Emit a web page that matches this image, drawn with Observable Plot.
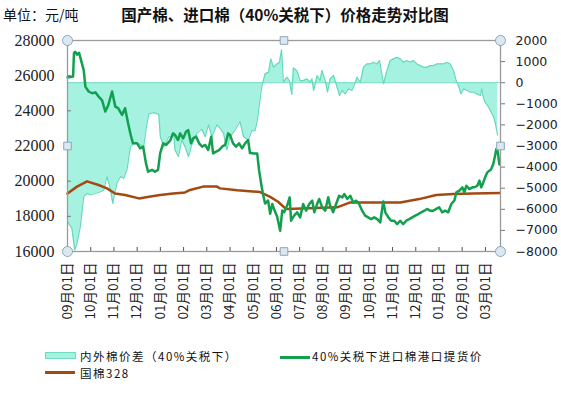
<!DOCTYPE html>
<html><head><meta charset="utf-8">
<script src="https://cdn.jsdelivr.net/npm/d3@7"></script>
<script src="https://cdn.jsdelivr.net/npm/@observablehq/plot@0.6"></script>
<style>
body{margin:0;background:#fff;}
#wrap{position:relative;width:561px;height:394px;overflow:hidden;font-family:"Noto Sans CJK SC",sans-serif;color:#111;}
#chart{position:absolute;left:0;top:0;}
.t{position:absolute;white-space:nowrap;line-height:1;}
.lg{font-size:11.5px;letter-spacing:1.5px;line-height:12px;height:12px;}
.sw{position:absolute;}
</style></head><body>
<div id="wrap">
<div id="chart"></div>
<div class="t" style="left:3px;top:7px;font-size:14px;">单位：元/吨</div>
<div class="t" style="left:285px;top:7px;font-size:15.5px;font-weight:bold;transform:translateX(-50%);">国产棉、进口棉（40%关税下）价格走势对比图</div>
<div class="sw" style="left:45px;top:352px;width:29px;height:5px;background:#a6f2e0;border:1px solid #6fdcc0;"></div>
<div class="t lg" id="lg1" style="left:80px;top:350px;"></div>
<div class="sw" style="left:280px;top:356px;width:30px;height:2.5px;background:#12a04e;"></div>
<div class="t lg" id="lg2" style="left:312px;top:350px;"></div>
<div class="sw" style="left:45px;top:371px;width:30px;height:2.5px;background:#a34a12;"></div>
<div class="t lg" id="lg3" style="left:80px;top:367px;"></div>
</div>
<script>
// Series names
const seriesNames = ["内外棉价差（40%关税下）", "40%关税下进口棉港口提货价", "国棉328"];
// X tick labels (one per month, positions = month index from 09月01日)
const xLabels = ["09月01日","10月01日","11月01日","12月01日","01月01日","02月01日","03月01日","04月01日","05月01日","06月01日","07月01日","08月01日","09月01日","10月01日","11月01日","12月01日","01月01日","02月01日","03月01日"];
const xDomain = [0, 18.65];
const yDomain = [16000, 28000];      // left axis 元/吨
const rDomain = [-8000, 2000];       // right axis (spread)
const leftTicks = [16000,18000,20000,22000,24000,26000,28000];
const rightTicks = [-8000,-7000,-6000,-5000,-4000,-3000,-2000,-1000,0,1000,2000];

// [month position, price] : 40%关税下进口棉港口提货价
const importPrice = [[0,25900],[0.24,25950],[0.28,27300],[0.34,27350],[0.41,27200],[0.5,27300],[0.58,26900],[0.7,26300],[0.77,25380],[0.91,25100],[1.06,25000],[1.2,25050],[1.34,24810],[1.49,24600],[1.63,23960],[1.75,24300],[1.92,25100],[2.06,24240],[2.18,24150],[2.35,23770],[2.48,24150],[2.61,23290],[2.74,22530],[2.82,22150],[3.0,22150],[3.13,21870],[3.26,21960],[3.38,21010],[3.47,20540],[3.64,20640],[3.77,20540],[3.9,20640],[3.99,21580],[4.12,22150],[4.25,22060],[4.42,22300],[4.55,22720],[4.63,22630],[4.76,22340],[4.85,22720],[4.98,22430],[5.11,22820],[5.2,22900],[5.32,22150],[5.41,22430],[5.54,22530],[5.67,22150],[5.8,21960],[5.93,22060],[6.06,21770],[6.19,22530],[6.27,21580],[6.4,21680],[6.53,21770],[6.66,21960],[6.79,22060],[6.92,22720],[7.0,22630],[7.13,22150],[7.26,21960],[7.39,22150],[7.52,21870],[7.65,22150],[7.78,22340],[7.86,21600],[8.04,21580],[8.17,21580],[8.25,20640],[8.34,19870],[8.42,19270],[8.51,18730],[8.64,18900],[8.73,18150],[8.82,18700],[8.9,18400],[9.03,17980],[9.16,17180],[9.25,18330],[9.33,18230],[9.46,18610],[9.57,19080],[9.63,17750],[9.76,18040],[9.89,18230],[10.02,17940],[10.15,18700],[10.28,18320],[10.41,18700],[10.54,18890],[10.63,18230],[10.75,18700],[10.84,18990],[10.97,18510],[11.1,18320],[11.23,19080],[11.31,18610],[11.44,18230],[11.57,18700],[11.7,19170],[11.84,19080],[11.92,19270],[12.05,18990],[12.18,19170],[12.31,18790],[12.44,18890],[12.56,18700],[12.69,18320],[12.82,18040],[12.95,17940],[13.08,17840],[13.21,17940],[13.34,17840],[13.47,17650],[13.6,18850],[13.69,18230],[13.82,17940],[13.94,17750],[14.07,17750],[14.2,17560],[14.33,17750],[14.46,17560],[14.59,17750],[14.72,17840],[14.85,17940],[14.98,18040],[15.11,18130],[15.24,18230],[15.37,18320],[15.49,18420],[15.62,18320],[15.75,18320],[15.88,18420],[16.01,18510],[16.14,18230],[16.27,18320],[16.4,18230],[16.53,18700],[16.66,18890],[16.75,19360],[16.88,19460],[17.01,19650],[17.09,19360],[17.18,19740],[17.31,19550],[17.44,19650],[17.52,19650],[17.65,19740],[17.74,20030],[17.82,19650],[17.91,19930],[17.99,20220],[18.08,20500],[18.17,20590],[18.25,20690],[18.34,20980],[18.43,21550],[18.47,21830],[18.53,21700],[18.6,20950]];

// [month position, price] : 国棉328
const cotton328 = [[0,19300],[0.41,19690],[0.84,19990],[1.34,19780],[1.7,19590],[2.05,19300],[2.48,19210],[3.08,19020],[3.51,19110],[3.99,19210],[4.55,19300],[5.06,19360],[5.28,19500],[5.84,19690],[6.44,19690],[6.57,19590],[7.31,19480],[8.3,19380],[8.73,19110],[9.07,18830],[9.38,18450],[9.46,18420],[11.61,18510],[12.18,18790],[14.33,18790],[15.15,18980],[15.88,19210],[16.62,19270],[17.48,19300],[18.6,19320]];

// [month position, spread] : 内外棉价差（40%关税下）
const spread = [[0,-6600],[0.19,-6900],[0.31,-7930],[0.41,-7620],[0.55,-6830],[0.7,-5400],[0.84,-5250],[0.98,-5320],[1.2,-5250],[1.41,-5170],[1.56,-5100],[1.7,-4450],[1.84,-5000],[1.95,-5720],[2.03,-5250],[2.13,-4770],[2.28,-4450],[2.42,-4530],[2.56,-4140],[2.71,-3030],[2.85,-2890],[3.07,-2890],[3.28,-3030],[3.38,-2240],[3.5,-1480],[3.72,-1420],[3.93,-1500],[4.0,-2560],[4.15,-3030],[4.36,-2560],[4.58,-2480],[4.63,-3190],[4.78,-3500],[4.92,-2720],[5.06,-3030],[5.21,-3500],[5.35,-2950],[5.57,-2400],[5.78,-2200],[5.93,-2560],[6.07,-2000],[6.22,-2560],[6.43,-2000],[6.57,-2160],[6.72,-2400],[6.86,-3190],[7.0,-2560],[7.22,-2240],[7.43,-1840],[7.58,-2560],[7.79,-2720],[7.94,-2270],[8.08,-2270],[8.18,-1760],[8.27,-980],[8.37,-180],[8.51,420],[8.66,500],[8.76,1130],[8.87,730],[9.02,890],[9.13,970],[9.22,1560],[9.3,20],[9.45,260],[9.56,100],[9.66,-560],[9.73,700],[9.88,570],[10.02,100],[10.16,100],[10.31,180],[10.45,20],[10.53,180],[10.6,-370],[10.75,340],[10.88,100],[10.96,580],[11.1,100],[11.2,-450],[11.31,180],[11.46,340],[11.57,-60],[11.72,-610],[11.82,-370],[11.96,-530],[12.1,-290],[12.25,-370],[12.4,20],[12.47,260],[12.61,20],[12.75,730],[12.9,890],[13.04,890],[13.18,970],[13.33,890],[13.44,1050],[13.54,410],[13.61,-50],[13.76,570],[13.9,1050],[14.04,1130],[14.19,1210],[14.33,1130],[14.47,970],[14.62,1050],[14.76,970],[14.9,1050],[15.05,890],[15.19,810],[15.34,730],[15.48,730],[15.62,810],[15.76,810],[15.91,890],[16.06,890],[16.2,890],[16.34,970],[16.49,890],[16.63,570],[16.74,100],[16.84,-140],[16.95,-530],[17.06,-290],[17.2,-370],[17.35,-450],[17.49,-450],[17.64,-530],[17.78,-610],[17.84,-290],[17.91,-690],[17.99,-930],[18.14,-1160],[18.21,-1320],[18.35,-1610],[18.41,-1850],[18.49,-2270],[18.53,-2480]];

document.getElementById("lg1").textContent = seriesNames[0];
document.getElementById("lg2").textContent = seriesNames[1];
document.getElementById("lg3").textContent = seriesNames[2];

// map right-axis values onto the left scale
const k = (yDomain[1]-yDomain[0])/(rDomain[1]-rDomain[0]);
const toL = r => yDomain[0] + (r - rDomain[0]) * k;
const fromL = v => Math.round((v - yDomain[0]) / k + rDomain[0]);
const fmtR = r => r < 0 ? "\u2212" + Math.abs(r) : String(r);

const imp = importPrice.map(([m, v]) => ({m, v}));
const cot = cotton328.map(([m, v]) => ({m, v}));
const spr = spread.map(([m, s]) => ({m, s}));

const xMid = (xDomain[0]+xDomain[1])/2, yMid = (yDomain[0]+yDomain[1])/2;
const corners = d3.cross(xDomain, yDomain);
const mids = [[xMid, yDomain[0]], [xMid, yDomain[1]], [xDomain[0], yMid], [xDomain[1], yMid]];
const monthTicks = d3.range(xLabels.length);

const chart = Plot.plot({
  width: 561, height: 340,
  marginTop: 40, marginBottom: 89, marginLeft: 67, marginRight: 61,
  style: {background: "transparent", overflow: "visible"},
  x: {domain: xDomain},
  y: {domain: yDomain},
  marks: [
    Plot.areaY(spr, {x: "m", y1: () => toL(0), y2: d => toL(d.s), fill: "#a6f2e0"}),
    Plot.ruleY([toL(0)], {stroke: "#76dcc3", strokeWidth: 1}),
    Plot.lineY(spr, {x: "m", y: d => toL(d.s), stroke: "#66d9bd", strokeWidth: 1.2}),
    Plot.line(cot, {x: "m", y: "v", stroke: "#a34a12", strokeWidth: 2.5}),
    Plot.line(imp, {x: "m", y: "v", stroke: "#12a04e", strokeWidth: 2.5}),
    Plot.frame({stroke: "#9a9a9a", strokeWidth: 1.3}),
    // left axis
    Plot.axisY({anchor: "left", ticks: leftTicks, tickFormat: d => String(d), tickSize: 0, tickPadding: 13, fontSize: 16, fontFamily: "Liberation Serif", fill: "#222", label: null}),
    Plot.axisY({anchor: "left", ticks: leftTicks, tickSize: -4, tickFormat: () => "", stroke: "#777", label: null}),
    // right axis
    Plot.axisY({anchor: "right", ticks: rightTicks.map(toL), tickFormat: v => fmtR(fromL(v)), tickSize: 4, tickPadding: 11, stroke: "#777", fontSize: 12.5, fontFamily: "DejaVu Sans", fill: "#222", label: null}),
    // bottom axis
    Plot.axisX({anchor: "bottom", ticks: monthTicks, tickFormat: i => xLabels[i], tickRotate: -90, tickSize: 0, tickPadding: 11, fontSize: 13.5, fontFamily: "Noto Sans CJK SC", fill: "#222", label: null}),
    Plot.axisX({anchor: "bottom", ticks: monthTicks, tickSize: -4, tickFormat: () => "", stroke: "#555", label: null}),
    // selection handles
    Plot.dot(corners, {x: d => d[0], y: d => d[1], r: 5, fill: "#dbe8f1", stroke: "#8ea6bb", strokeWidth: 1}),
    Plot.dot(mids, {x: d => d[0], y: d => d[1], r: 4.3, symbol: "square", fill: "#dbe8f1", stroke: "#8ea6bb", strokeWidth: 1})
  ]
});
// enforce axis label fonts directly on the text elements
const leftSet = new Set(leftTicks.map(String));
d3.select(chart).selectAll("text").each(function() {
  const t = this.textContent;
  if (leftSet.has(t)) {
    this.style.fontFamily = '"Liberation Serif", "DejaVu Serif", serif';
    this.style.fontSize = "16px";
  } else if (/^[\u22120-9]+$/.test(t)) {
    this.style.fontFamily = '"DejaVu Sans", sans-serif';
  }
});
document.getElementById("chart").appendChild(chart);
</script>
</body></html>
